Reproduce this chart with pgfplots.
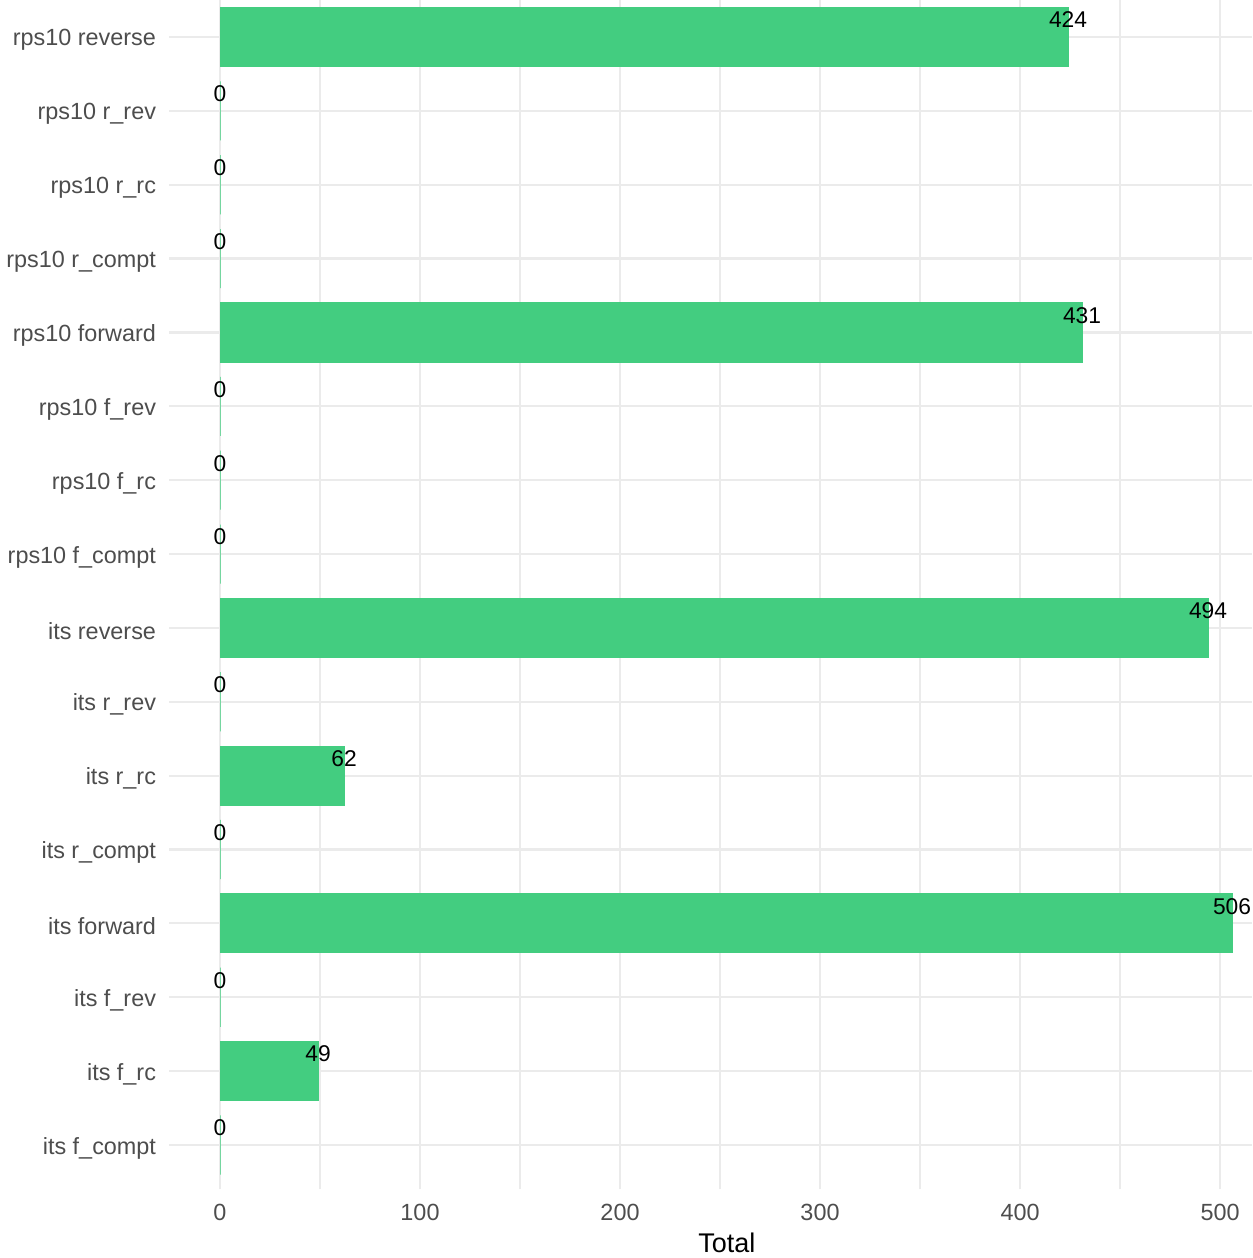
\documentclass[border=0pt]{standalone}
\usepackage{pgfplots}
\pgfplotsset{compat=1.18}
\usepackage{fontspec}
\setmainfont{Liberation Sans}
\definecolor{barc}{HTML}{43CD80}
\definecolor{gridc}{HTML}{EBEBEB}
\definecolor{tickc}{HTML}{4D4D4D}

\begin{document}
\begin{tikzpicture}
\begin{axis}[
  scale only axis,
  width=541.3pt, height=598.3pt,
  xmin=-25.3, xmax=516,
  ymin=-0.6, ymax=15.6,
  xbar, bar width=0.8, bar shift=0pt,
  axis line style={draw=none},
  major tick length=0pt, minor tick length=0pt,
  xtick={0,100,...,500},
  minor xtick={50,150,250,350,450},
  ytick={0,...,15},
  yticklabels={its f\_compt, its f\_rc, its f\_rev, its forward,
    its r\_compt, its r\_rc, its r\_rev, its reverse,
    rps10 f\_compt, rps10 f\_rc, rps10 f\_rev, rps10 forward,
    rps10 r\_compt, rps10 r\_rc, rps10 r\_rev, rps10 reverse},
  xmajorgrids, ymajorgrids, xminorgrids,
  major grid style={gridc, line width=1.1pt},
  minor grid style={gridc, line width=0.6pt},
  tick label style={font=\fontsize{11.7}{14}\selectfont, text=tickc},
  /pgf/number format/assume math mode=true,
  xticklabel style={anchor=center, inner sep=0pt, yshift=-11.5pt},
  yticklabel style={anchor=east, inner sep=0pt, xshift=-6.5pt, yshift=-1.5pt},
  xlabel={Total},
  xlabel style={at={(axis description cs:0.515,-0.0451)}, anchor=center,
    font=\fontsize{13.5}{16}\selectfont, inner sep=0pt},
  nodes near coords,
  nodes near coords style={anchor=center, yshift=8.5pt,
    font=\fontsize{11.4}{13}\selectfont, text=black, inner sep=0pt},
  clip=false,
]
\addplot[fill=barc, draw=barc, line width=0.5pt] coordinates {
  (0,0) (49,1) (0,2) (506,3) (0,4) (62,5) (0,6) (494,7)
  (0,8) (0,9) (0,10) (431,11) (0,12) (0,13) (0,14) (424,15)
};
\coordinate (pbl) at (axis cs:-110,-1.530);
\coordinate (ptr) at (axis cs:516,15.501);
\end{axis}
\pgfresetboundingbox
\useasboundingbox (pbl) rectangle (ptr);
\end{tikzpicture}
\end{document}
